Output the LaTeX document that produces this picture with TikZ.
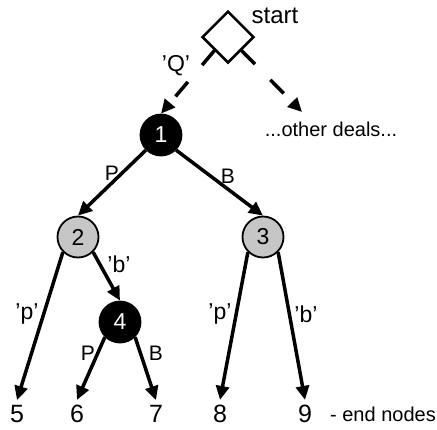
\documentclass[tikz,border=0pt]{standalone}
\usepackage{fontspec}
\setmainfont{Liberation Sans}
\usetikzlibrary{arrows.meta}
\usetikzlibrary{shapes.geometric}
\tikzset{arr/.style = {line width=3.5pt, -{Triangle[length=14pt,width=13pt]}}}
\tikzset{dasharr/.style = {arr, dash pattern=on 19pt off 22pt}}
\tikzset{dnode/.style = {circle, draw, line width=1.8pt, fill=black, text=white, minimum size=41pt, inner sep=0, font=\fontsize{23}{27}\selectfont}}
\tikzset{cnode/.style = {dnode, fill=gray!45, text=black}}
\tikzset{endnum/.style = {inner sep=5pt, font=\fontsize{25}{29}\selectfont}}
\tikzset{qlbl/.style = {font=\fontsize{23}{27}\selectfont}}

\begin{document}
\begin{tikzpicture}[x=1pt,y=-1pt,font=\fontsize{21}{25}\selectfont]
        \useasboundingbox (0,0) rectangle (437,429);
        \node [diamond, draw, line width=2.5pt, minimum width=52pt, minimum height=52pt, inner sep=0] (start) at (228,37) {};
        \node [font=\fontsize{24}{28}\selectfont] (startlbl) at (275,16) {start};
        \node [font=\fontsize{20}{24}\selectfont] (deals) at (331,129) {...other deals...};
        \coordinate (dealsin) at (302,112);
        \node [dnode] (n1) at (161,135) {1};
        \node [cnode] (n2) at (78,237) {2};
        \node [cnode] (n3) at (263,237) {3};
        \node [dnode] (n4) at (120,322) {4};
        \node [endnum] (e5) at (17,414) {5};
        \node [endnum] (e6) at (77,414) {6};
        \node [endnum] (e7) at (156,414) {7};
        \node [endnum] (e8) at (220,414) {8};
        \node [endnum] (e9) at (305,414) {9};
        \node [anchor=east, inner sep=0, font=\fontsize{20}{24}\selectfont] (endlbl) at (436,414) {- end nodes};
        \draw [dasharr] (start.south west) -- (n1.north);
        \draw [dasharr] (start.south east) -- (dealsin);
        \draw [arr] (n1.south west) -- (n2.north);
        \draw [arr] (n1.south east) -- (n3.north);
        \draw [arr] (n2.south west) -- (e5.north);
        \draw [arr] (n2.south east) -- (n4.north);
        \draw [arr] (n4.south west) -- (e6.north);
        \draw [arr] (n4.south east) -- (e7.north);
        \draw [arr] (n3.south west) -- (e8.north);
        \draw [arr] (n3.south east) -- (e9.north);
        \node [qlbl] (q) at (176,66) {'Q'};
        \node (p1) at (112,173) {P};
        \node (b1) at (228,176) {B};
        \node [qlbl] (p2) at (27,314) {'p'};
        \node [qlbl] (b2) at (119,264) {'b'};
        \node (p4) at (88,353) {P};
        \node (b4) at (156,353) {B};
        \node [qlbl] (p3) at (220,314) {'p'};
        \node [qlbl] (b3) at (306,314) {'b'};
\end{tikzpicture}
\end{document}
